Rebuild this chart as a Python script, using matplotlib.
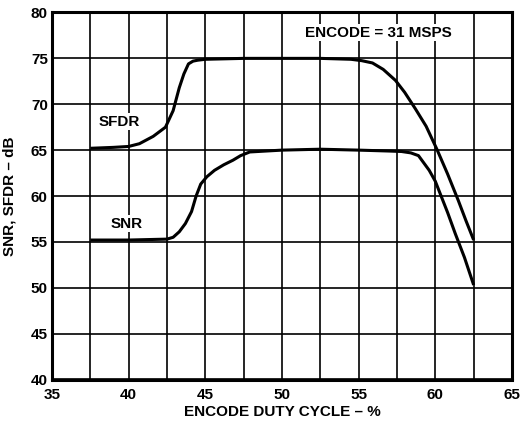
import numpy as np
import matplotlib
matplotlib.use("Agg")
import matplotlib.pyplot as plt

plt.rcParams['font.family'] = ['Liberation Sans', 'DejaVu Sans']
plt.rcParams['font.weight'] = 'bold'

# duty cycle (%) and dB values
sfdr_x = [37.5, 39.0, 40.0, 40.7, 41.6, 42.4, 42.9, 43.3, 43.6, 43.9, 44.2, 44.5,
          45.0, 47.5, 50.0, 52.5, 54.5, 55.2, 55.9, 56.6, 57.4, 58.0, 58.7,
          59.4, 60.1, 60.8, 61.5, 62.0, 62.5]
sfdr_y = [65.2, 65.3, 65.4, 65.7, 66.5, 67.5, 69.3, 71.8, 73.3, 74.4, 74.7, 74.8,
          74.9, 75.0, 75.0, 75.0, 74.9, 74.75, 74.5, 73.8, 72.6, 71.3, 69.5,
          67.6, 65.1, 62.4, 59.5, 57.3, 55.2]

snr_x = [37.5, 40.0, 42.5, 42.9, 43.3, 43.7, 44.1, 44.4, 44.7, 45.1, 45.6, 46.2,
         46.8, 47.3, 47.9, 50.0, 52.5, 55.0, 57.0, 57.8, 58.4, 58.9, 59.6,
         60.0, 60.4, 60.8, 61.3, 61.9, 62.5]
snr_y = [55.2, 55.2, 55.3, 55.5, 56.1, 57.0, 58.3, 60.0, 61.3, 62.1, 62.8, 63.4,
         63.9, 64.4, 64.8, 65.0, 65.1, 65.0, 64.9, 64.85, 64.7, 64.4, 62.8,
         61.6, 59.9, 58.2, 55.9, 53.3, 50.3]

x_ticks = [35, 40, 45, 50, 55, 60, 65]
y_ticks = [40, 45, 50, 55, 60, 65, 70, 75, 80]

fs = 11

fig = plt.figure(figsize=(5.24, 4.23), dpi=100)
ax = fig.add_axes([52 / 524, 1 - 379.5 / 423, 460 / 524, 367 / 423])

ax.set_xlim(35, 65)
ax.set_ylim(40, 80)
ax.set_xticks(x_ticks)
ax.set_yticks(y_ticks)
ax.set_xticks(np.arange(37.5, 65, 5), minor=True)

ax.grid(True, which='both', axis='x', color='black', lw=1.2)
ax.grid(True, which='major', axis='y', color='black', lw=1.2)
ax.tick_params(which='both', length=0, labelsize=fs)
ax.tick_params(axis='x', pad=6)
ax.tick_params(axis='y', pad=3)
for s in ax.spines.values():
    s.set_linewidth(2.2)

ax.plot(sfdr_x, sfdr_y, color='black', lw=2.2, solid_capstyle='butt')
ax.plot(snr_x, snr_y, color='black', lw=2.2, solid_capstyle='butt')

box = dict(facecolor='white', edgecolor='none', pad=1)
ax.text(39.4, 68.1, 'SFDR', ha='center', va='center', fontsize=fs,
        fontweight='bold', bbox=box)
ax.text(39.9, 57.0, 'SNR', ha='center', va='center', fontsize=fs,
        fontweight='bold', bbox=box)
ax.text(56.3, 77.8, 'ENCODE = 31 MSPS', ha='center', va='center', fontsize=fs,
        fontweight='bold', bbox=box)

ax.set_xlabel('ENCODE DUTY CYCLE – %', fontsize=fs, fontweight='bold', labelpad=2)
ax.set_ylabel('SNR, SFDR – dB', fontsize=fs, fontweight='bold', labelpad=10)

fig.savefig('out.png', dpi=100)
